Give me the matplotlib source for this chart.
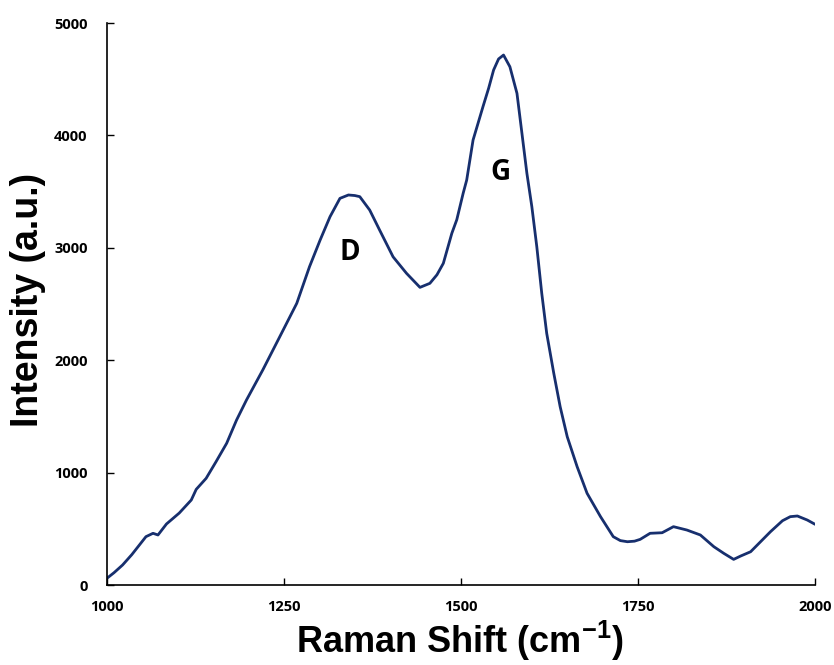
import matplotlib
matplotlib.use("Agg")
import matplotlib.pyplot as plt

# Raman spectrum (Raman shift in cm^-1, intensity in a.u.)
raman_shift = [1000, 1010, 1022, 1035, 1045, 1055, 1065, 1072, 1084, 1102, 1119, 1126,
               1140, 1154, 1169, 1183, 1197, 1220, 1244, 1268, 1286, 1301,
               1315, 1329, 1341, 1350, 1357, 1371, 1385, 1404, 1423, 1442, 1456, 1466, 1475,
               1487, 1494, 1503, 1508, 1517, 1531, 1539, 1546, 1553, 1560, 1569, 1579, 1586,
               1593, 1600, 1607, 1614, 1621, 1631, 1640, 1650, 1664, 1678, 1697, 1715,
               1725, 1735, 1745, 1753, 1767,
               1784, 1800, 1819, 1838, 1857, 1871, 1885, 1895, 1909, 1923, 1937, 1954,
               1965, 1975, 1989, 2000]
intensity = [60, 110, 178, 270, 350, 430, 460, 445, 543, 640, 756, 851,
             949, 1097, 1261, 1468, 1646, 1913, 2209, 2506, 2832, 3069,
             3277, 3440, 3470, 3465, 3455, 3336, 3158, 2920, 2773, 2648, 2684, 2760, 2862,
             3129, 3250, 3485, 3603, 3959, 4256, 4420, 4582, 4680, 4715, 4611, 4374, 4019,
             3663, 3366, 3010, 2595, 2239, 1883, 1586, 1319, 1052, 816, 608, 430,
             395, 385, 390, 406, 460,
             465, 519, 489, 445, 341, 282, 228, 258, 296, 385, 474, 572,
             608, 614, 578, 540]

peak_labels = ["D", "G"]
peak_label_x = [1343, 1555]
peak_label_y = [2954, 3674]

x_ticks = [1000, 1250, 1500, 1750, 2000]
y_ticks = [0, 1000, 2000, 3000, 4000, 5000]

plt.rcParams["mathtext.fontset"] = "custom"
plt.rcParams["mathtext.bf"] = "Liberation Sans:bold"
plt.rcParams["mathtext.rm"] = "Liberation Sans:bold"

fig = plt.figure(figsize=(8.34, 6.65), dpi=100)
ax = fig.add_axes([0.1283, 0.1203, 0.849, 0.8451])

ax.plot(raman_shift, intensity, color="#172f6e", linewidth=2.0,
        solid_joinstyle="round", solid_capstyle="round")

for lab, lx, ly in zip(peak_labels, peak_label_x, peak_label_y):
    ax.text(lx, ly, lab, ha="center", va="center", fontsize=20,
            fontweight="bold", family=["Open Sans", "DejaVu Sans"], color="black")

ax.set_xlim(1000, 2000)
ax.set_ylim(0, 5000)
ax.set_xticks(x_ticks)
ax.set_yticks(y_ticks)

for side in ("top", "right"):
    ax.spines[side].set_visible(False)
for side in ("left", "bottom"):
    ax.spines[side].set_linewidth(1.2)
    ax.spines[side].set_color("black")

ax.tick_params(axis="both", direction="in", length=5, width=1.0, color="black")
ax.tick_params(axis="x", pad=11)
ax.tick_params(axis="y", pad=14)
for lbl in ax.get_xticklabels() + ax.get_yticklabels():
    lbl.set_fontfamily(["Open Sans", "DejaVu Sans"])
    lbl.set_fontweight("bold")
    lbl.set_fontsize(10.5)

ax.set_xlabel("Raman Shift (cm$^{-1}$)", fontsize=26, fontweight="bold",
              family=["Liberation Sans", "DejaVu Sans"])
ax.set_ylabel("Intensity (a.u.)", fontsize=27, fontweight="bold",
              family=["Liberation Sans", "DejaVu Sans"])
ax.xaxis.label.set_va("center")
ax.yaxis.label.set_va("center")
ax.xaxis.set_label_coords(0.4986, -0.099)
ax.yaxis.set_label_coords(-0.1116, 0.507)

fig.savefig("out.png", dpi=100)
